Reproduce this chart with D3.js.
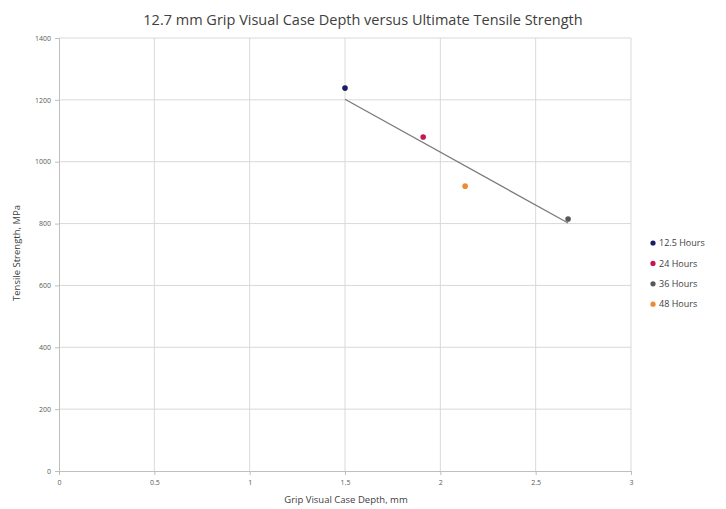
<!DOCTYPE html>
<html>
<head>
<meta charset="utf-8">
<script src="https://cdn.jsdelivr.net/npm/d3@7"></script>
<style>
  body { margin: 0; background: #fff; }
  text { font-family: "Open Sans", "Liberation Sans", sans-serif; }
</style>
</head>
<body>
<svg id="chart" width="726" height="509"></svg>
<script>
// series
let seriesNames = ["12.5 Hours", "24 Hours", "36 Hours", "48 Hours"];
let seriesColors = ["#1c1a6b", "#c8174d", "#55585c", "#f08a32"];
let depth = [1.5, 1.91, 2.67, 2.13];
let strength = [1238, 1080, 815, 921];
let trendX = [1.5, 2.67];
let trendY = [1202, 802];
let xTicks = [0, 0.5, 1, 1.5, 2, 2.5, 3];
let yTicks = [0, 200, 400, 600, 800, 1000, 1200, 1400];

let svg = d3.select("#chart");
let plotLeft = 59, plotRight = 631, plotTop = 38, plotBottom = 471;

let x = d3.scaleLinear().domain([0, 3]).range([plotLeft, plotRight]);
let y = d3.scaleLinear().domain([0, 1400]).range([plotBottom, plotTop]);

// grid
svg.append("g")
	.selectAll("line")
	.data(xTicks.slice(1))
	.enter()
	.append("line")
	.attr("x1", d => x(d)).attr("x2", d => x(d))
	.attr("y1", plotTop).attr("y2", plotBottom)
	.attr("stroke", "#d9d9d9").attr("stroke-width", 1);

svg.append("g")
	.selectAll("line")
	.data(yTicks.slice(1))
	.enter()
	.append("line")
	.attr("x1", plotLeft).attr("x2", plotRight)
	.attr("y1", d => y(d)).attr("y2", d => y(d))
	.attr("stroke", "#d9d9d9").attr("stroke-width", 1);

// axes
let xAxis = svg.append("g")
	.attr("transform", "translate(0," + plotBottom + ")")
	.call(d3.axisBottom(x).tickValues(xTicks).tickFormat(d3.format("")).tickSize(4).tickPadding(5));
let yAxis = svg.append("g")
	.attr("transform", "translate(" + plotLeft + ",0)")
	.call(d3.axisLeft(y).tickValues(yTicks).tickFormat(d3.format("")).tickSize(4).tickPadding(4));

[xAxis, yAxis].forEach(a => {
	a.select(".domain").attr("stroke", "#bfbfbf");
	a.selectAll(".tick line").attr("stroke", "#bfbfbf");
	a.selectAll(".tick text")
		.attr("fill", "#595959")
		.style("font-size", "7px");
});

// trendline
svg.append("line")
	.attr("x1", x(trendX[0])).attr("y1", y(trendY[0]))
	.attr("x2", x(trendX[1])).attr("y2", y(trendY[1]))
	.attr("stroke", "#7a7a7a")
	.attr("stroke-width", 1.3);

// points
svg.append("g")
	.selectAll("circle")
	.data(d3.range(seriesNames.length))
	.enter()
	.append("circle")
	.attr("cx", i => x(depth[i]))
	.attr("cy", i => y(strength[i]))
	.attr("r", 2.8)
	.attr("fill", i => seriesColors[i]);

// legend
let legend = svg.append("g")
	.selectAll("g")
	.data(seriesNames)
	.enter()
	.append("g")
	.attr("transform", (d, i) => "translate(653," + (243 + i * 20.4) + ")");
legend.append("circle")
	.attr("r", 2.6)
	.attr("fill", (d, i) => seriesColors[i]);
legend.append("text")
	.attr("x", 6)
	.attr("y", 3.2)
	.style("font-size", "9px")
	.attr("fill", "#404040")
	.text(d => d);

// titles
svg.append("text")
	.attr("x", 363).attr("y", 25)
	.attr("text-anchor", "middle")
	.style("font-size", "14.5px")
	.attr("fill", "#404040")
	.text("12.7 mm Grip Visual Case Depth versus Ultimate Tensile Strength");

svg.append("text")
	.attr("x", 346).attr("y", 503)
	.attr("text-anchor", "middle")
	.style("font-size", "9.5px")
	.attr("fill", "#404040")
	.text("Grip Visual Case Depth, mm");

svg.append("text")
	.attr("transform", "translate(20,253) rotate(-90)")
	.attr("text-anchor", "middle")
	.style("font-size", "9.5px")
	.attr("fill", "#404040")
	.text("Tensile Strength, MPa");
</script>
</body>
</html>
